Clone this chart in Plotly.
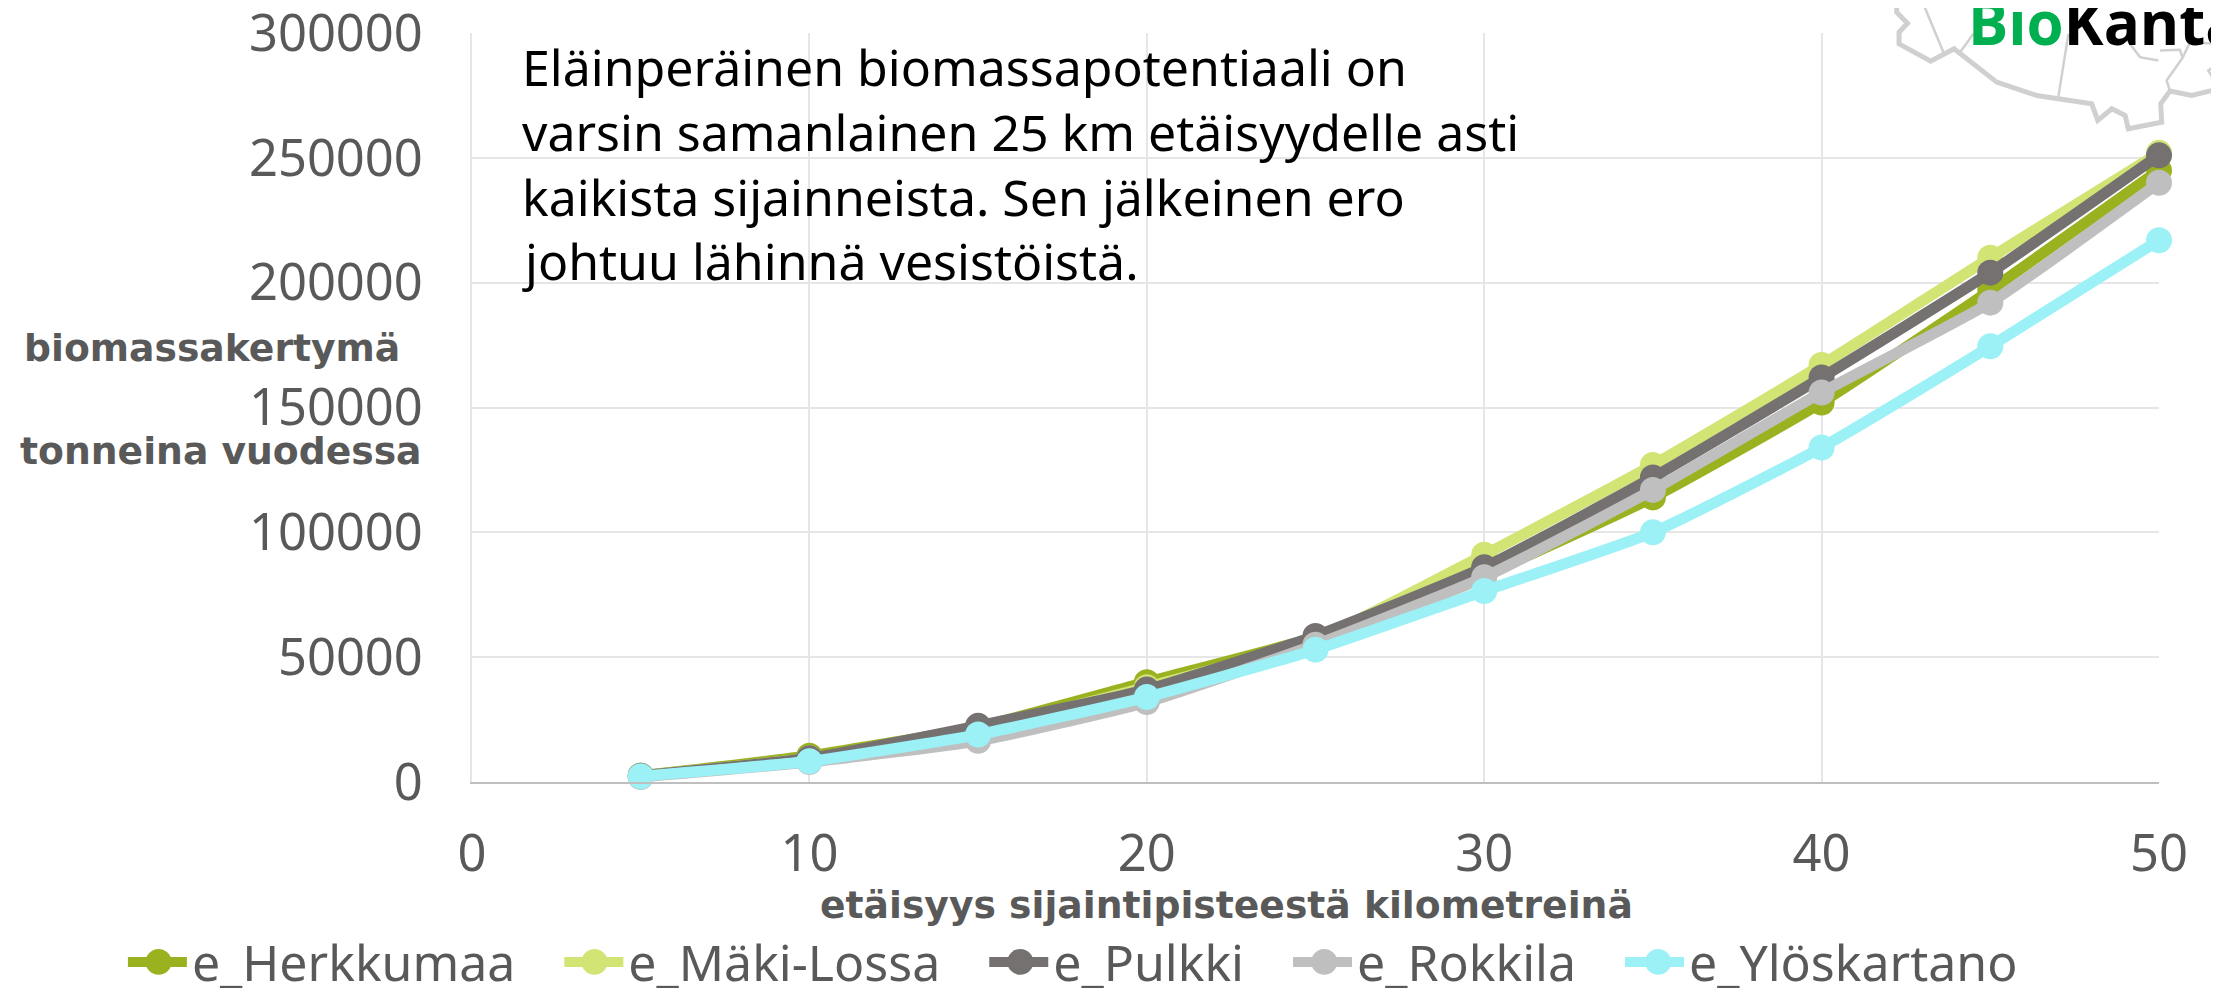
import plotly.graph_objects as go

distance_km = [5, 10, 15, 20, 25, 30, 35, 40, 45, 50]
herkkumaa = [2500, 10500, 22000, 40000, 58000, 83000, 114000, 152000, 197000, 245000]
maki_lossa = [2500, 9500, 21000, 38000, 57000, 91000, 127000, 167000, 210000, 252000]
pulkki = [2500, 9500, 22500, 37000, 58500, 86000, 122000, 162000, 204000, 251000]
rokkila = [2000, 8000, 16500, 32000, 55000, 82000, 117000, 156000, 192000, 240000]
yloskartano = [2300, 8300, 19000, 34000, 53000, 76500, 100000, 134000, 174500, 217000]
series_names = ["e_Herkkumaa", "e_Mäki-Lossa", "e_Pulkki", "e_Rokkila", "e_Ylöskartano"]
series_values = [herkkumaa, maki_lossa, pulkki, rokkila, yloskartano]
series_colors = ["#9BB220", "#D1E474", "#767171", "#BFBFBF", "#9BF1F5"]
note_lines = ["Eläinperäinen biomassapotentiaali on",
              "varsin samanlainen 25 km etäisyydelle asti",
              "kaikista sijainneista. Sen jälkeinen ero",
              "johtuu lähinnä vesistöistä."]

W, H = 2219, 988
OFF = 8  # the page body has an 8 px margin
L, R, T, B = 471.5, 2159, 32.5, 782
GREY = "#595959"
BODY = "Noto Sans"
BOLD = "DejaVu Sans"

fig = go.Figure()
for name, vals, col in zip(series_names, series_values, series_colors):
    fig.add_trace(go.Scatter(x=distance_km, y=vals, name=name + "\u00a0\u00a0\u00a0", mode="lines+markers",
                             line=dict(color=col, width=11, shape="spline", smoothing=0.5),
                             marker=dict(color=col, size=26),
                             cliponaxis=False))


def px(x, y):
    return dict(xref="paper", yref="paper", x=(x - L) / (R - L), y=(B - y) / (B - T))


def outline(points, width, color="#D0D0D0"):
    path = "M " + " L ".join(f"{(x - L) / (R - L):.4f},{(B - y) / (B - T):.4f}" for x, y in points)
    fig.add_shape(type="path", xref="paper", yref="paper", path=path, layer="below",
                  line=dict(color=color, width=width))


def z(points):
    return [(1800 + a / 3, b / 3) for a, b in points]


outline(z([(290, 0), (290, 35), (322, 68), (297, 95), (297, 130), (392, 182), (462, 145), (590, 245),
           (710, 285), (875, 310), (893, 360), (935, 325), (975, 345), (985, 385), (1085, 365),
           (1082, 310), (1110, 272), (1175, 285), (1257, 265)]), 5)
for pts in [[(370, 10), (430, 155)], [(480, 155), (520, 100)], [(805, 100), (775, 290)],
            [(1075, 180), (1020, 170), (975, 110)],
            [(1080, 150), (1140, 148), (1148, 172), (1100, 240), (1110, 272)],
            [(1257, 130), (1170, 125), (1148, 172)], [(1257, 190), (1225, 210), (1257, 265)],
            [(370, 10), (440, 0)]]:
    outline(z(pts), 2.5)

fig.add_annotation(**px(1966, 42), text='<span style="color:#00B050">Bio</span>Kanta', showarrow=False,
                   xanchor="left", yanchor="bottom", yshift=-23,
                   font=dict(family="Open Sans", size=60, color="#000000", weight=700))

for i, line in enumerate(note_lines):
    fig.add_annotation(**px(520, 67 + i * 64.7), text=line, showarrow=False, xanchor="left", yanchor="middle",
                       font=dict(family=BODY, size=50, color="#000000"))

fig.add_annotation(**px(21, 348), text="biomassakertymä", showarrow=False, xanchor="left", yanchor="middle",
                   font=dict(family=BOLD, size=37.7, color=GREY, weight=700))
fig.add_annotation(**px(17, 451), text="tonneina vuodessa", showarrow=False, xanchor="left", yanchor="middle",
                   font=dict(family=BOLD, size=37.7, color=GREY, weight=700))
fig.add_annotation(**px(1226, 905), text="etäisyys sijaintipisteestä kilometreinä", showarrow=False,
                   xanchor="center", yanchor="middle",
                   font=dict(family=BOLD, size=37.7, color=GREY, weight=700))

# the legend's own marker is capped in size, so a larger dot sits under each swatch
for cx, col in zip([158, 594, 1020, 1324, 1658], series_colors):
    a, b = px(cx - 13, 962 + 13), px(cx + 13, 962 - 13)
    fig.add_shape(type="circle", xref="paper", yref="paper", x0=a["x"], y0=a["y"], x1=b["x"], y1=b["y"],
                  fillcolor=col, line=dict(width=0))

leg = px(122.3, 962)
fig.update_layout(
    width=W, height=H, autosize=False, template=None,
    paper_bgcolor="white", plot_bgcolor="white",
    margin=dict(l=L - OFF, r=W - R + OFF, t=T - OFF, b=H - B + OFF, pad=0, autoexpand=False),
    showlegend=True,
    legend=dict(orientation="h", x=leg["x"], xref="paper", xanchor="left",
                y=leg["y"], yref="paper", yanchor="middle", itemwidth=59,
                font=dict(family=BODY, size=50, color=GREY), bgcolor="rgba(0,0,0,0)", tracegroupgap=0),
    xaxis=dict(range=[0, 50], tickvals=[0, 10, 20, 30, 40, 50], showgrid=True, gridcolor="#E6E6E6", gridwidth=2,
               zeroline=False, showline=True, linecolor="#BFBFBF", linewidth=2, ticks="", ticklabelstandoff=26,
               ticklabeloverflow="allow",
               tickfont=dict(family=BODY, size=50.7, color=GREY), automargin=False),
    yaxis=dict(range=[0, 300000], tickvals=[0, 50000, 100000, 150000, 200000, 250000, 300000],
               tickformat="d", showgrid=True, gridcolor="#E6E6E6", gridwidth=2,
               zeroline=False, showline=True, linecolor="#E6E6E6", linewidth=2, ticks="", ticklabelstandoff=37,
               ticklabeloverflow="allow",
               tickfont=dict(family=BODY, size=50.7, color=GREY), automargin=False),
)
fig.write_html("out.html")
